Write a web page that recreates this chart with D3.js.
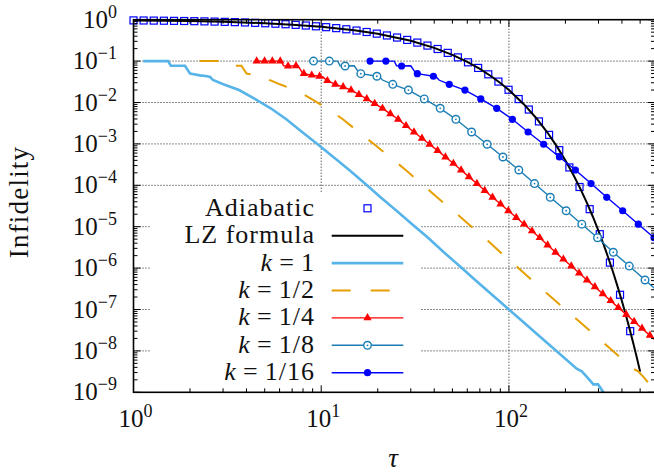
<!DOCTYPE html>
<html>
<head>
<meta charset="utf-8">
<script src="https://cdn.jsdelivr.net/npm/d3@7"></script>
<style>
  body { margin: 0; background: #fff; }
  text { font-family: "Liberation Serif", "Times New Roman", serif; fill: #111; }
</style>
</head>
<body>
<svg id="chart" width="654" height="476"></svg>
<script>
// ---- data ----
var adiabaticTau = [1.0, 1.132, 1.282, 1.452, 1.644, 1.862, 2.109, 2.388, 2.704, 3.062, 3.467, 3.926, 4.446, 5.035, 5.702,
  6.457, 7.311, 8.279, 9.376, 10.62, 12.02, 13.61, 15.42, 17.46, 19.77, 22.39, 25.35, 28.71, 32.51, 36.81, 41.69, 47.21,
  53.46, 60.53, 68.55, 77.62, 87.90, 99.54, 112.7, 127.6, 144.5, 163.7, 185.4, 209.9, 237.7, 269.2, 304.8, 345.1, 390.8, 442.6];
var adiabaticInf = [0.962, 0.957, 0.951, 0.945, 0.938, 0.930, 0.921, 0.911, 0.900, 0.887, 0.873, 0.858, 0.840, 0.821, 0.800,
  0.777, 0.751, 0.723, 0.693, 0.660, 0.625, 0.587, 0.547, 0.505, 0.461, 0.416, 0.371, 0.325, 0.280, 0.237, 0.196, 0.158,
  0.123, 0.0935, 0.0684, 0.0479, 0.0320, 0.0203, 0.0121, 0.00676, 0.00349, 0.00165, 7.06e-4, 2.70e-4, 9.1e-5, 2.65e-5,
  6.6e-6, 1.36e-6, 2.27e-7, 3.0e-8];

var lzTau = [1, 2, 3, 5, 7, 10, 15, 20, 30, 40, 50, 60, 70, 80, 90, 100, 120, 140, 160, 180, 200, 220, 240, 260, 280, 300,
  320, 340, 360, 380, 400, 420, 440, 460, 480, 500];
var lzInf = [0.962, 0.925, 0.889, 0.822, 0.760, 0.676, 0.556, 0.457, 0.309, 0.209, 0.141, 0.0955, 0.0646, 0.0437, 0.0295,
  0.0200, 0.00912, 0.00417, 0.00191, 8.71e-4, 3.98e-4, 1.82e-4, 8.32e-5, 3.80e-5, 1.74e-5, 7.94e-6, 3.63e-6, 1.66e-6,
  7.59e-7, 3.47e-7, 1.58e-7, 7.24e-8, 3.31e-8, 1.51e-8, 6.92e-9, 3.16e-9];

// k = 1 and k = 1/2 (plain lines)
var k1Tau = [1.127, 1.38, 1.53, 1.58, 1.88, 2.0, 2.03, 2.26, 2.47, 2.56, 2.65, 3.01, 3.65, 4.43, 5.38, 6.52, 7.91, 9.57,
  11.6, 14.1, 17.1, 20.7, 25.2, 30.5, 37.1, 45.0, 54.6, 66.1, 100, 146.6, 229.6, 244.3, 259.4, 281.8, 298.5, 318.4, 339];
var k1Inf = [0.1, 0.1, 0.1, 0.077, 0.077, 0.050, 0.0497, 0.0452, 0.043, 0.0413, 0.0349, 0.0275, 0.020, 0.0122, 0.00724,
  0.00393, 0.00194, 9.8e-4, 4.83e-4, 2.34e-4, 1.1e-4, 5.13e-5, 2.43e-5, 1.15e-5, 5.42e-6, 2.41e-6, 1.12e-6, 5.16e-7,
  1e-7, 2.2e-8, 3.7e-9, 3.2e-9, 2.4e-9, 1.55e-9, 1.55e-9, 1.0e-9, 7.5e-10];
var k2Tau = [2.25, 2.76, 3.06, 3.16, 3.76, 4.0, 4.06, 4.52, 4.94, 5.12, 5.3, 6.02, 7.3, 8.86, 10.76, 13.04, 15.82, 19.14,
  23.2, 28.2, 34.2, 41.4, 50.4, 61.0, 74.2, 90.0, 109.2, 132.2, 200, 293.2, 459.2, 488.6, 518.8, 563.6, 597, 636.8, 678];
var k2Inf = [0.1, 0.1, 0.1, 0.077, 0.077, 0.050, 0.0497, 0.0452, 0.043, 0.0413, 0.0349, 0.0275, 0.020, 0.0122, 0.00724,
  0.00393, 0.00194, 9.8e-4, 4.83e-4, 2.34e-4, 1.1e-4, 5.13e-5, 2.43e-5, 1.15e-5, 5.42e-6, 2.41e-6, 1.12e-6, 5.16e-7,
  1e-7, 2.2e-8, 3.7e-9, 3.2e-9, 2.4e-9, 1.55e-9, 1.55e-9, 1.0e-9, 7.5e-10];

// k = 1/4: marker points and the extra corners of the staircase
var k4MarkTau = [4.53, 4.99, 5.49, 6.05, 6.66, 7.34, 8.08, 8.90, 9.80, 10.79, 11.89, 13.09, 14.42, 15.88, 17.49, 19.26,
  21.2, 23.35, 25.7, 28.3, 31.2, 34.4, 37.8, 41.7, 45.9, 50.6, 55.6, 61.2, 67.5, 74.3, 81.8, 90.2, 99.3, 109.4, 120.5,
  132.7, 145.9, 160.7, 177.0, 195.0, 214.8, 236.6, 260.6, 287.1, 316.2, 348.3, 382.8, 421.7, 464.5, 511.7, 563.6];
var k4MarkInf = [0.1, 0.1, 0.1, 0.1, 0.0762, 0.0767, 0.0497, 0.0456, 0.0430, 0.0336, 0.0275, 0.0238, 0.0200, 0.0156,
  0.0122, 0.00938, 0.00724, 0.00533, 0.00393, 0.00275, 0.00194, 0.00137, 9.8e-4, 6.87e-4, 4.83e-4, 3.37e-4, 2.34e-4,
  1.6e-4, 1.1e-4, 7.5e-5, 5.13e-5, 3.53e-5, 2.43e-5, 1.67e-5, 1.15e-5, 7.9e-6, 5.42e-6, 3.61e-6, 2.41e-6, 1.64e-6,
  1.12e-6, 7.6e-7, 5.16e-7, 3.52e-7, 2.4e-7, 1.63e-7, 1.11e-7, 7.55e-8, 5.13e-8, 3.49e-8, 2.37e-8];
var k4StepTau = [6.12, 6.31, 7.52, 8.0, 10.23, 10.62, 700];
var k4StepInf = [0.1, 0.077, 0.077, 0.050, 0.0413, 0.0349, 1.0e-8];

// k = 1/8
var k8MarkTau = [9.1, 11.05, 13.4, 16.25, 19.8, 24.05, 29.15, 35.4, 43.05, 52.15, 63.25, 76.55, 92.9, 112.9, 136.9,
  166.0, 201.8, 244.5, 296.5, 359.7, 437.7, 531];
var k8MarkInf = [0.1, 0.1, 0.0762, 0.0497, 0.043, 0.0275, 0.020, 0.0122, 0.00724, 0.00393, 0.00194, 9.8e-4, 4.83e-4,
  2.34e-4, 1.1e-4, 5.13e-5, 2.43e-5, 1.15e-5, 5.42e-6, 2.41e-6, 1.12e-6, 5.16e-7];
var k8StepTau = [12.25, 12.6, 15.0, 16.0, 20.5, 21.2, 700];
var k8StepInf = [0.1, 0.077, 0.077, 0.050, 0.0413, 0.0349, 1.7e-7];

// k = 1/16
var k16MarkTau = [18.2, 22.1, 26.8, 32.5, 39.6, 48.1, 58.3, 70.8, 86.1, 104.3, 126.5, 153.1, 185.8, 225.9, 273.8, 332,
  403.6, 489, 593];
var k16MarkInf = [0.1, 0.1, 0.0762, 0.0497, 0.043, 0.0275, 0.020, 0.0122, 0.00724, 0.00393, 0.00194, 9.8e-4, 4.83e-4,
  2.34e-4, 1.1e-4, 5.13e-5, 2.43e-5, 1.15e-5, 5.42e-6];
var k16StepTau = [24.5, 25.2, 30.0, 32.0, 41.0, 42.4, 700];
var k16StepInf = [0.1, 0.077, 0.077, 0.050, 0.0413, 0.0349, 2.8e-6];

var xTickExp = [0, 1, 2];
var yTickExp = [0, -1, -2, -3, -4, -5, -6, -7, -8, -9];
var legendLabels = ["Adiabatic", "LZ formula", "k = 1", "k = 1/2", "k = 1/4", "k = 1/8", "k = 1/16"];

// ---- helpers ----
function zip(a, b) { return a.map(function (v, i) { return [v, b[i]]; }); }
function merged(mt, mi, st, si) {
  return zip(mt, mi).concat(zip(st, si)).sort(function (p, q) { return p[0] - q[0]; });
}

var width = 654, height = 476;
var x = d3.scaleLog().domain([1, 600]).range([133.5, 655]);
var y = d3.scaleLog().domain([1e-9, 1]).range([392.3, 19.7]);
var L = 133.5, R = 655, T = 19.7, B = 392.3;

var series = [
  { marks: zip(adiabaticTau, adiabaticInf), color: "#0000ff", symbol: "square" },
  { line: zip(lzTau, lzInf), color: "#000000", width: 2 },
  { line: zip(k1Tau, k1Inf), color: "#56b4e9", width: 2.6 },
  { line: zip(k2Tau, k2Inf), color: "#e69f00", width: 2, dash: "19,20" },
  { line: merged(k4MarkTau, k4MarkInf, k4StepTau, k4StepInf), marks: zip(k4MarkTau, k4MarkInf), color: "#ff0000", width: 1.4, symbol: "triangle" },
  { line: merged(k8MarkTau, k8MarkInf, k8StepTau, k8StepInf), marks: zip(k8MarkTau, k8MarkInf), color: "#1a7db5", width: 1.4, symbol: "ocircle" },
  { line: merged(k16MarkTau, k16MarkInf, k16StepTau, k16StepInf), marks: zip(k16MarkTau, k16MarkInf), color: "#0000ff", width: 1.4, symbol: "fcircle" }
];

var svg = d3.select("#chart");
svg.append("rect").attr("width", width).attr("height", height).attr("fill", "#fff");

svg.append("defs").append("clipPath").attr("id", "clip")
  .append("rect").attr("x", L).attr("y", T).attr("width", R - L).attr("height", B - T);

// grid (dotted)
var grid = svg.append("g")
  .attr("stroke", "#000").attr("stroke-width", 1).attr("stroke-dasharray", "1,2").attr("opacity", 0.9);
grid.selectAll(".gy").data(yTickExp.slice(1, -1)).enter().append("line")
  .attr("x1", L).attr("x2", R)
  .attr("y1", function (e) { return y(Math.pow(10, e)); })
  .attr("y2", function (e) { return y(Math.pow(10, e)); });
grid.selectAll(".gx").data(xTickExp.slice(1)).enter().append("line")
  .attr("y1", T).attr("y2", B)
  .attr("x1", function (e) { return x(Math.pow(10, e)); })
  .attr("x2", function (e) { return x(Math.pow(10, e)); });

// opaque key area hides the grid behind it
svg.append("rect").attr("x", 150).attr("y", 193).attr("width", 270).attr("height", B - 193).attr("fill", "#fff");

// curves
var line = d3.line().x(function (d) { return x(d[0]); }).y(function (d) { return y(d[1]); });
var plotG = svg.append("g");

function drawMark(g, type, color, cx, cy) {
  if (type === "square") {
    g.append("rect").attr("x", cx - 3.5).attr("y", cy - 3.5).attr("width", 7).attr("height", 7)
      .attr("fill", "none").attr("stroke", color).attr("stroke-width", 1.2);
  } else if (type === "triangle") {
    g.append("path").attr("d", d3.symbol(d3.symbolTriangle, 30)())
      .attr("transform", "translate(" + cx + "," + cy + ")").attr("fill", color);
  } else if (type === "ocircle") {
    g.append("circle").attr("cx", cx).attr("cy", cy).attr("r", 3.8)
      .attr("fill", "#fff").attr("stroke", color).attr("stroke-width", 1.4);
    g.append("circle").attr("cx", cx).attr("cy", cy).attr("r", 0.9).attr("fill", color);
  } else if (type === "fcircle") {
    g.append("circle").attr("cx", cx).attr("cy", cy).attr("r", 3.6).attr("fill", color);
  }
}

series.forEach(function (s) {
  if (s.line) {
    plotG.append("path").datum(s.line)
      .attr("clip-path", "url(#clip)")
      .attr("d", line)
      .attr("fill", "none")
      .attr("stroke", s.color)
      .attr("stroke-width", s.width)
      .attr("stroke-dasharray", s.dash || null);
  }
  if (s.marks) {
    var mg = plotG.append("g");
    s.marks.forEach(function (d) { drawMark(mg, s.symbol, s.color, x(d[0]), y(d[1])); });
  }
});

// key
var key = svg.append("g");
legendLabels.forEach(function (lab, i) {
  var s = series[i], ky = 208.3 + i * 27.4;
  var t = key.append("text").attr("x", 315).attr("y", ky + 7.5)
    .attr("text-anchor", "end").attr("font-size", 26).attr("letter-spacing", 1);
  if (lab.charAt(0) === "k") {
    t.append("tspan").attr("font-style", "italic").text("k");
    t.append("tspan").attr("xml:space", "preserve").text(lab.slice(1).replace(" = ", "\u2009=\u2009"));
  } else {
    t.text(lab);
  }
  if (s.line) {
    key.append("line").attr("x1", 331.7).attr("x2", 403.3).attr("y1", ky).attr("y2", ky)
      .attr("stroke", s.color).attr("stroke-width", s.width).attr("stroke-dasharray", s.dash || null);
  }
  if (s.marks) drawMark(key, s.symbol, s.color, 367.5, ky);
});

// frame and ticks
var axes = svg.append("g").attr("stroke", "#000").attr("fill", "none");
axes.append("rect").attr("x", L).attr("y", T).attr("width", R - L).attr("height", B - T).attr("stroke-width", 1.6);

var xTicks = [], yTicks = [];
xTickExp.forEach(function (e) {
  for (var m = 1; m <= 9; m++) {
    var v = m * Math.pow(10, e);
    if (v <= 600) xTicks.push({ v: v, major: m === 1 });
  }
});
yTickExp.forEach(function (e) {
  for (var m = 1; m <= 9; m++) {
    var v = m * Math.pow(10, e);
    if (v <= 1) yTicks.push({ v: v, major: m === 1 });
  }
});
xTicks.forEach(function (t) {
  var px = x(t.v), len = t.major ? 7 : 4;
  axes.append("line").attr("x1", px).attr("x2", px).attr("y1", B).attr("y2", B - len).attr("stroke-width", 1);
  axes.append("line").attr("x1", px).attr("x2", px).attr("y1", T).attr("y2", T + len).attr("stroke-width", 1);
});
yTicks.forEach(function (t) {
  var py = y(t.v), len = t.major ? 7 : 4;
  axes.append("line").attr("x1", L).attr("x2", L + len).attr("y1", py).attr("y2", py).attr("stroke-width", 1);
  axes.append("line").attr("x1", R).attr("x2", R - len).attr("y1", py).attr("y2", py).attr("stroke-width", 1);
});

function powLabel(t, e) {
  t.append("tspan").text("10");
  t.append("tspan").attr("dy", -10).attr("font-size", 18).text(e < 0 ? "\u2212" + (-e) : String(e));
}
yTickExp.forEach(function (e) {
  var t = svg.append("text").attr("x", 117).attr("y", y(Math.pow(10, e)) + 8)
    .attr("text-anchor", "end").attr("font-size", 25);
  powLabel(t, e);
});
xTickExp.forEach(function (e) {
  var t = svg.append("text").attr("x", x(Math.pow(10, e)) + 2).attr("y", 427)
    .attr("text-anchor", "middle").attr("font-size", 25);
  powLabel(t, e);
});

// axis titles
svg.append("text").attr("transform", "translate(28,202) rotate(-90)")
  .attr("text-anchor", "middle").attr("font-size", 27).attr("letter-spacing", 1.2).text("Infidelity");
svg.append("text").attr("x", 393).attr("y", 467).attr("text-anchor", "middle")
  .attr("font-size", 27).attr("font-style", "italic").text("\u03c4");
</script>
</body>
</html>
